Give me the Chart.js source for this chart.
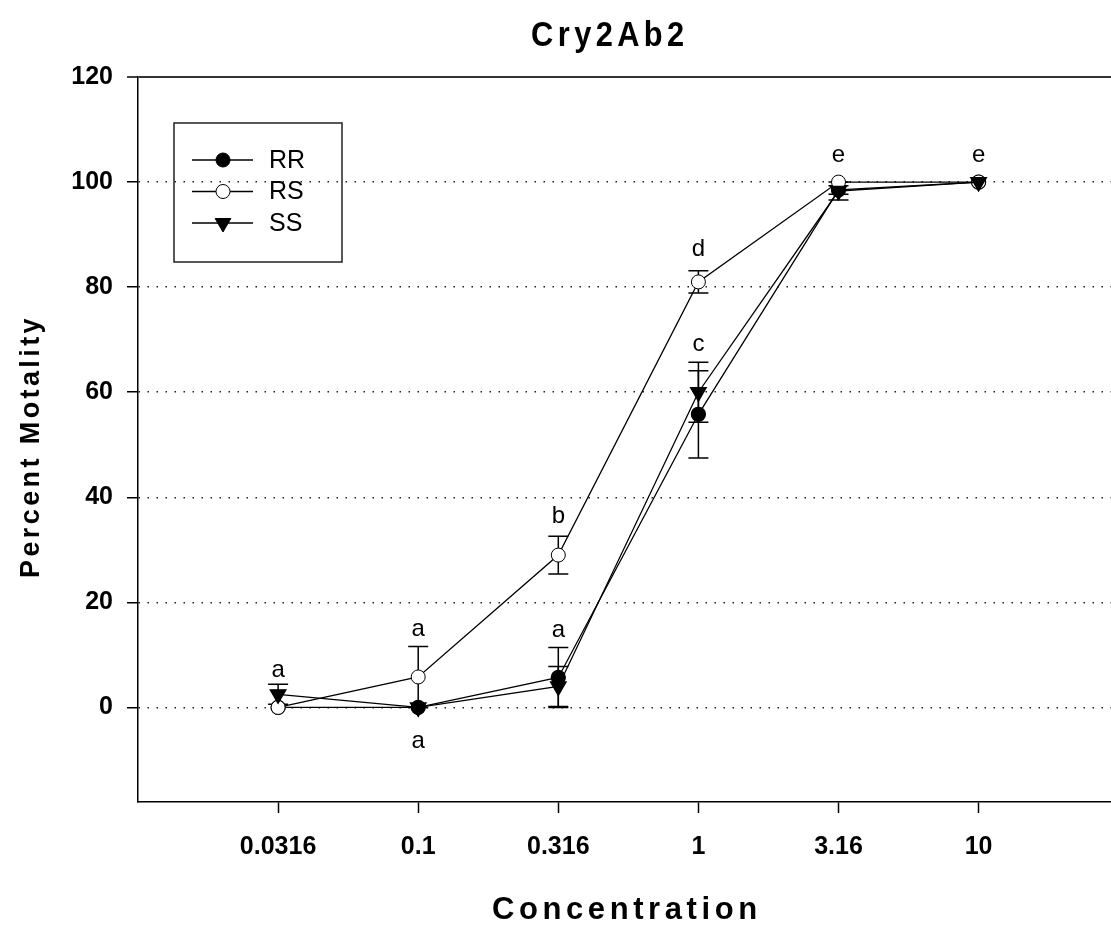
<!DOCTYPE html>
<html>
<head>
<meta charset="utf-8">
<script src="https://cdn.jsdelivr.net/npm/chart.js@4/dist/chart.umd.min.js"></script>
<style>
  html, body { margin: 0; padding: 0; background: #fff; overflow: hidden; }
</style>
</head>
<body>
<!-- the plot runs off the right edge in the original, so the canvas is a bit wider than the window -->
<canvas id="mortChart" width="1122" height="932"></canvas>
<script>
// values
const concentrations = ['0.0316', '0.1', '0.316', '1', '3.16', '10'];
const seriesNames = ['RR', 'RS', 'SS'];
const rrMortality = [0, 0, 5.7, 55.8, 98.5, 100];
const rsMortality = [0, 5.8, 29, 81, 100, 100];
const ssMortality = [2.5, 0, 4, 60, 98.3, 100];
const rrError = [0, 0, 5.7, 8.3, 0.8, 0];
const rsError = [0, 5.8, 3.6, 2.1, 0, 0];
const ssError = [1.9, 0, 3.8, 5.7, 1.7, 0];
// significance letters: concentration index, height, letter
const letterConc = [0, 1, 1, 2, 2, 3, 3, 4, 5];
const letterValue = [7, 14.8, -6.5, 36.3, 14.6, 87.2, 69.1, 105, 105];
const letterText = ['a', 'a', 'a', 'b', 'a', 'd', 'c', 'e', 'e'];
const yTicks = [0, 20, 40, 60, 80, 100, 120];

const FONT = '"Liberation Sans", Arial, sans-serif';

const toPoints = arr => arr.map((v, i) => ({ x: i, y: v }));

function drawMarker(ctx, style, x, y, r, fill) {
  ctx.beginPath();
  if (style === 'triangle') {
    // pointing down
    ctx.moveTo(x - r * 0.87, y - r * 0.5);
    ctx.lineTo(x + r * 0.87, y - r * 0.5);
    ctx.lineTo(x, y + r);
    ctx.closePath();
  } else {
    ctx.arc(x, y, r, 0, Math.PI * 2);
  }
  ctx.fillStyle = fill;
  ctx.fill();
  ctx.lineWidth = 1;
  ctx.strokeStyle = '#000';
  ctx.stroke();
}

// condensed, letter-spaced text like the original SigmaPlot labels
function spacedText(ctx, text, x, y, font, spacing, squeeze) {
  ctx.save();
  ctx.translate(x, y);
  ctx.scale(squeeze, 1);
  ctx.font = font;
  ctx.letterSpacing = spacing + 'px';
  ctx.textAlign = 'center';
  ctx.textBaseline = 'middle';
  ctx.fillStyle = '#000';
  ctx.fillText(text, 0, 0);
  ctx.restore();
}

const extras = {
  id: 'extras',
  beforeDatasetsDraw(chart) {
    const { ctx, scales: { x, y } } = chart;
    const errs = [rrError, rsError, ssError];
    ctx.save();
    ctx.strokeStyle = '#000';
    ctx.lineWidth = 1.5;
    chart.data.datasets.forEach((ds, i) => {
      ds.data.forEach((p, j) => {
        const e = errs[i][j];
        if (!e) return;
        const px = x.getPixelForValue(p.x);
        const top = y.getPixelForValue(p.y + e);
        const bot = y.getPixelForValue(p.y - e);
        ctx.beginPath();
        ctx.moveTo(px, top); ctx.lineTo(px, bot);
        ctx.moveTo(px - 10, top); ctx.lineTo(px + 10, top);
        ctx.moveTo(px - 10, bot); ctx.lineTo(px + 10, bot);
        ctx.stroke();
      });
    });
    ctx.restore();
  },
  afterDatasetsDraw(chart) {
    const { ctx, scales: { x, y } } = chart;
    ctx.save();
    ctx.fillStyle = '#000';
    ctx.font = '24px ' + FONT;
    ctx.textAlign = 'center';
    ctx.textBaseline = 'middle';
    letterText.forEach((t, k) => {
      ctx.fillText(t, x.getPixelForValue(letterConc[k]), y.getPixelForValue(letterValue[k]));
    });
    ctx.restore();
  },
  afterDraw(chart) {
    const { ctx, chartArea: a } = chart;
    ctx.save();
    // legend box
    const lx = a.left + 36, ly = a.top + 46;
    ctx.strokeStyle = '#222';
    ctx.lineWidth = 1.5;
    ctx.strokeRect(lx, ly, 168, 139);
    chart.data.datasets.forEach((ds, i) => {
      const ry = ly + 37 + i * 31.5;
      ctx.beginPath();
      ctx.moveTo(lx + 18, ry); ctx.lineTo(lx + 79, ry);
      ctx.strokeStyle = '#000';
      ctx.lineWidth = 1.5;
      ctx.stroke();
      drawMarker(ctx, ds.pointStyle, lx + 49, ry, ds.pointStyle === 'triangle' ? 9 : 7, ds.pointBackgroundColor);
      ctx.fillStyle = '#000';
      ctx.font = '25px ' + FONT;
      ctx.textAlign = 'left';
      ctx.textBaseline = 'middle';
      ctx.fillText(ds.label, lx + 95, ry + 1);
    });
    ctx.restore();
    // titles
    const cx = (a.left + a.right) / 2;
    spacedText(ctx, 'Cry2Ab2', cx - 15, 36, 'bold 35px ' + FONT, 5, 0.88);
    spacedText(ctx, 'Concentration', cx + 2, 910, 'bold 31px ' + FONT, 4.6, 1);
    ctx.save();
    ctx.translate(32, (a.top + a.bottom) / 2 + 7);
    ctx.rotate(-Math.PI / 2);
    spacedText(ctx, 'Percent Motality', 0, 0, 'bold 27px ' + FONT, 3.4, 1);
    ctx.restore();
  }
};

new Chart(document.getElementById('mortChart'), {
  type: 'line',
  data: {
    datasets: [
      {
        label: seriesNames[0],
        data: toPoints(rrMortality),
        borderColor: '#000',
        borderWidth: 1.3,
        pointStyle: 'circle',
        pointRadius: 7,
        pointBackgroundColor: '#000',
        pointBorderColor: '#000',
        order: 3
      },
      {
        label: seriesNames[1],
        data: toPoints(rsMortality),
        borderColor: '#000',
        borderWidth: 1.3,
        pointStyle: 'circle',
        pointRadius: 7,
        pointBackgroundColor: '#fff',
        pointBorderColor: '#000',
        pointBorderWidth: 1,
        order: 2
      },
      {
        label: seriesNames[2],
        data: toPoints(ssMortality),
        borderColor: '#000',
        borderWidth: 1.3,
        pointStyle: 'triangle',
        pointRotation: 180,
        pointRadius: 9,
        pointBackgroundColor: '#000',
        pointBorderColor: '#000',
        order: 1
      }
    ]
  },
  options: {
    responsive: false,
    animation: false,
    layout: { padding: { top: 77, left: 0, right: 0, bottom: 0 } },
    plugins: { legend: { display: false }, tooltip: { enabled: false } },
    scales: {
      x: {
        type: 'linear',
        min: -1,
        max: 5.95,
        afterBuildTicks: s => { s.ticks = concentrations.map((c, i) => ({ value: i })); },
        afterFit: s => { s.height = 130; },
        ticks: {
          color: '#000',
          font: { family: FONT, size: 25, weight: 'bold' },
          padding: 19,
          callback: v => concentrations[v]
        },
        grid: { drawOnChartArea: false, drawTicks: true, tickLength: 11, tickColor: '#000', tickWidth: 1.5 },
        border: { color: '#000', width: 1.5 }
      },
      y: {
        min: -18,
        max: 120,
        afterBuildTicks: s => { s.ticks = yTicks.map(v => ({ value: v })); },
        afterFit: s => { s.width = 138; },
        ticks: {
          color: '#000',
          font: { family: FONT, size: 25, weight: 'bold' },
          padding: 14
        },
        grid: {
          color: c => (c.tick && c.tick.value === 120) ? '#333' : '#222',
          lineWidth: c => (c.tick && c.tick.value === 120) ? 2 : 1.5,
          tickLength: 11,
          tickColor: '#000',
          tickWidth: 1.5
        },
        border: {
          color: '#000',
          width: 1.5,
          dash: c => (c.tick && c.tick.value === 120) ? [] : [1.5, 7.5]
        }
      }
    }
  },
  plugins: [extras]
});
</script>
</body>
</html>
